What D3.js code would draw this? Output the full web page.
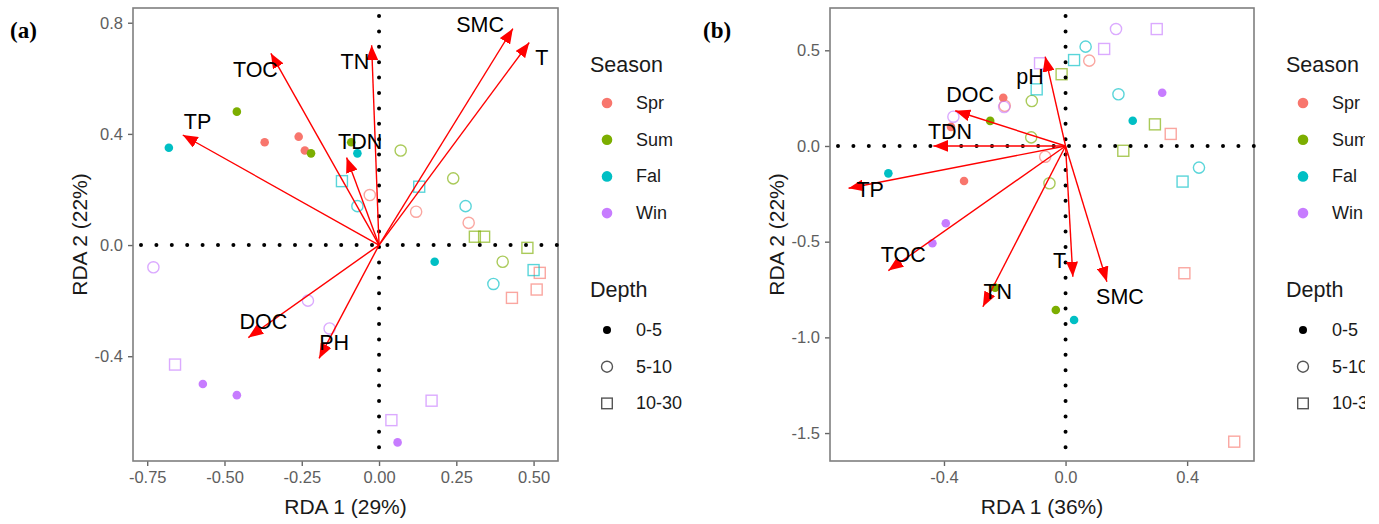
<!DOCTYPE html>
<html>
<head>
<meta charset="utf-8">
<script src="https://cdn.jsdelivr.net/npm/d3@7"></script>
<style>
  body { margin: 0; background: #fff; }
  svg { display: block; font-family: "Liberation Sans", Arial, sans-serif; }
</style>
</head>
<body>
<svg id="chart" width="1379" height="524"></svg>
<script>
(function () {
  'use strict';

  // --- Legend categories ---
  var seasons      = ['Spr', 'Sum', 'Fal', 'Win'];
  var seasonColors = ['#F8766D', '#7CAE00', '#00BFC4', '#C77CFF'];
  var depths       = ['0-5', '5-10', '10-30'];

  // --- Panel (a) samples: [season, depth, RDA1, RDA2] ---
  var samplesA = [
    ['Spr', '0-5', -0.37, 0.37], ['Spr', '0-5', -0.26, 0.39], ['Spr', '0-5', -0.24, 0.34],
    ['Spr', '5-10', -0.03, 0.18], ['Spr', '5-10', 0.12, 0.12], ['Spr', '5-10', 0.29, 0.08],
    ['Spr', '10-30', 0.43, -0.19], ['Spr', '10-30', 0.51, -0.16], ['Spr', '10-30', 0.52, -0.10],
    ['Sum', '0-5', -0.46, 0.48], ['Sum', '0-5', -0.22, 0.33], ['Sum', '0-5', -0.09, 0.37],
    ['Sum', '5-10', 0.07, 0.34], ['Sum', '5-10', 0.24, 0.24], ['Sum', '5-10', 0.40, -0.06],
    ['Sum', '10-30', 0.31, 0.03], ['Sum', '10-30', 0.34, 0.03], ['Sum', '10-30', 0.48, -0.01],
    ['Fal', '0-5', -0.68, 0.35], ['Fal', '0-5', -0.07, 0.33], ['Fal', '0-5', 0.18, -0.06],
    ['Fal', '5-10', -0.07, 0.14], ['Fal', '5-10', 0.28, 0.14], ['Fal', '5-10', 0.37, -0.14],
    ['Fal', '10-30', -0.12, 0.23], ['Fal', '10-30', 0.13, 0.21], ['Fal', '10-30', 0.50, -0.09],
    ['Win', '0-5', -0.57, -0.50], ['Win', '0-5', -0.46, -0.54], ['Win', '0-5', 0.06, -0.71],
    ['Win', '5-10', -0.73, -0.08], ['Win', '5-10', -0.23, -0.20], ['Win', '5-10', -0.16, -0.30],
    ['Win', '10-30', -0.66, -0.43], ['Win', '10-30', 0.04, -0.63], ['Win', '10-30', 0.17, -0.56]
  ];

  // --- Panel (a) environmental vectors ---
  var envA     = ['TOC', 'TP', 'TN', 'TDN', 'SMC', 'T', 'DOC', 'PH'];
  var envAx    = [-0.35, -0.635, -0.024, -0.105, 0.433, 0.486, -0.423, -0.194];
  var envAy    = [0.69, 0.396, 0.719, 0.315, 0.779, 0.729, -0.333, -0.408];
  var envAlabX = [-0.40, -0.587, -0.078, -0.061, 0.327, 0.527, -0.374, -0.145];
  var envAlabY = [0.629, 0.444, 0.659, 0.372, 0.791, 0.672, -0.276, -0.354];

  // --- Panel (b) samples ---
  var samplesB = [
    ['Spr', '0-5', -0.205, 0.252], ['Spr', '0-5', -0.334, -0.183], ['Spr', '0-5', -0.377, 0.10],
    ['Spr', '5-10', 0.078, 0.446], ['Spr', '5-10', -0.067, -0.056], ['Spr', '5-10', -0.20, 0.21],
    ['Spr', '10-30', 0.346, 0.063], ['Spr', '10-30', 0.391, -0.665], ['Spr', '10-30', 0.555, -1.545],
    ['Sum', '0-5', -0.248, 0.131], ['Sum', '0-5', -0.032, -0.857], ['Sum', '0-5', -0.232, -0.74],
    ['Sum', '5-10', -0.111, 0.235], ['Sum', '5-10', -0.113, 0.045], ['Sum', '5-10', -0.053, -0.195],
    ['Sum', '10-30', -0.013, 0.375], ['Sum', '10-30', 0.294, 0.113], ['Sum', '10-30', 0.19, -0.025],
    ['Fal', '0-5', -0.583, -0.143], ['Fal', '0-5', 0.221, 0.132], ['Fal', '0-5', 0.028, -0.909],
    ['Fal', '5-10', 0.066, 0.519], ['Fal', '5-10', 0.174, 0.27], ['Fal', '5-10', 0.439, -0.113],
    ['Fal', '10-30', 0.028, 0.449], ['Fal', '10-30', -0.095, 0.296], ['Fal', '10-30', 0.385, -0.186],
    ['Win', '0-5', 0.318, 0.278], ['Win', '0-5', -0.394, -0.404], ['Win', '0-5', -0.438, -0.508],
    ['Win', '5-10', 0.166, 0.611], ['Win', '5-10', -0.369, 0.153], ['Win', '5-10', -0.202, 0.204],
    ['Win', '10-30', 0.30, 0.611], ['Win', '10-30', 0.127, 0.507], ['Win', '10-30', -0.084, 0.432]
  ];

  // --- Panel (b) environmental vectors ---
  var envB     = ['pH', 'DOC', 'TDN', 'TP', 'TOC', 'TN', 'T', 'SMC'];
  var envBx    = [-0.067, -0.363, -0.435, -0.714, -0.583, -0.272, 0.024, 0.136];
  var envBy    = [0.467, 0.184, 0.0, -0.221, -0.651, -0.84, -0.683, -0.709];
  var envBlabX = [-0.117, -0.314, -0.38, -0.643, -0.534, -0.223, -0.02, 0.179];
  var envBlabY = [0.362, 0.266, 0.075, -0.23, -0.569, -0.761, -0.599, -0.79];

  // --- Axis ticks / titles ---
  var ticksAx = [-0.75, -0.5, -0.25, 0, 0.25, 0.5];
  var ticksAy = [-0.4, 0, 0.4, 0.8];
  var ticksBx = [-0.4, 0, 0.4];
  var ticksBy = [-1.5, -1, -0.5, 0, 0.5];

  var svg = d3.select('#chart');
  var color = d3.scaleOrdinal().domain(seasons).range(seasonColors);

  var defs = svg.append('defs');
  defs.append('marker')
    .attr('id', 'arrowhead')
    .attr('viewBox', '0 0 15 12')
    .attr('refX', 15).attr('refY', 6)
    .attr('markerWidth', 15).attr('markerHeight', 12)
    .attr('markerUnits', 'userSpaceOnUse')
    .attr('orient', 'auto')
    .append('path')
    .attr('d', 'M0,0L15,6L0,12Z')
    .attr('fill', '#ff0000');

  // the (b) figure is cut off on its right side in the source image
  defs.append('clipPath').attr('id', 'clipB')
    .append('rect').attr('x', 0).attr('y', 0).attr('width', 1365).attr('height', 524);

  function fmt(p) {
    return function (v) { return v.toFixed(p); };
  }

  function drawPoint(g, d, x, y) {
    var c = color(d[0]);
    var cx = x(d[2]), cy = y(d[3]);
    if (d[1] === '0-5') {
      g.append('circle').attr('cx', cx).attr('cy', cy).attr('r', 4.3).attr('fill', c);
    } else if (d[1] === '5-10') {
      g.append('circle').attr('cx', cx).attr('cy', cy).attr('r', 5.6)
        .attr('fill', 'none').attr('stroke', c).attr('stroke-width', 1.4).attr('stroke-opacity', 0.65);
    } else {
      g.append('rect').attr('x', cx - 5.5).attr('y', cy - 5.5).attr('width', 11).attr('height', 11)
        .attr('fill', 'none').attr('stroke', c).attr('stroke-width', 1.4).attr('stroke-opacity', 0.65);
    }
  }

  function drawPanel(cfg) {
    var x = d3.scaleLinear().domain(cfg.xDomain).range([cfg.left, cfg.right]);
    var y = d3.scaleLinear().domain(cfg.yDomain).range([cfg.bottom, cfg.top]);
    var g = svg.append('g');
    if (cfg.clip) g.attr('clip-path', 'url(#' + cfg.clip + ')');

    // axes
    var xa = g.append('g').attr('transform', 'translate(0,' + cfg.bottom + ')')
      .call(d3.axisBottom(x).tickValues(cfg.xTicks).tickFormat(fmt(cfg.xFmt)).tickSize(5).tickPadding(5));
    var ya = g.append('g').attr('transform', 'translate(' + cfg.left + ',0)')
      .call(d3.axisLeft(y).tickValues(cfg.yTicks).tickFormat(fmt(cfg.yFmt)).tickSize(5).tickPadding(5));
    [xa, ya].forEach(function (a) {
      a.select('.domain').remove();
      a.selectAll('line').attr('stroke', '#666').attr('stroke-width', 1.4);
      a.selectAll('text').attr('fill', '#5e5e5e').style('font-size', '16.5px')
        .style('font-family', '"Liberation Sans", Arial, sans-serif');
    });

    // panel border
    g.append('rect')
      .attr('x', cfg.left).attr('y', cfg.top)
      .attr('width', cfg.right - cfg.left).attr('height', cfg.bottom - cfg.top)
      .attr('fill', 'none').attr('stroke', '#7f7f7f').attr('stroke-width', 1.6);

    // points
    var pts = g.append('g');
    cfg.samples.forEach(function (d) { drawPoint(pts, d, x, y); });

    // dotted reference lines
    var dotted = g.append('g')
      .attr('stroke', '#000').attr('stroke-width', 4)
      .attr('stroke-linecap', 'round').attr('stroke-dasharray', '0 15.4');
    dotted.append('line')
      .attr('x1', cfg.left + 8).attr('x2', cfg.right).attr('y1', y(0)).attr('y2', y(0));
    dotted.append('line')
      .attr('x1', x(0)).attr('x2', x(0)).attr('y1', cfg.top + 8).attr('y2', cfg.bottom);

    // arrows
    var arr = g.append('g');
    cfg.env.forEach(function (name, i) {
      arr.append('line')
        .attr('x1', x(0)).attr('y1', y(0))
        .attr('x2', x(cfg.envX[i])).attr('y2', y(cfg.envY[i]))
        .attr('stroke', '#ff0000').attr('stroke-width', 1.4)
        .attr('marker-end', 'url(#arrowhead)');
    });
    cfg.env.forEach(function (name, i) {
      arr.append('text')
        .attr('x', x(cfg.labX[i])).attr('y', y(cfg.labY[i]))
        .attr('text-anchor', 'middle').attr('dominant-baseline', 'central')
        .style('font-size', '21.5px').attr('fill', '#000')
        .text(name);
    });

    // axis titles
    g.append('text')
      .attr('x', (cfg.left + cfg.right) / 2).attr('y', 514)
      .attr('text-anchor', 'middle').style('font-size', '21px').attr('fill', '#1a1a1a')
      .text(cfg.xTitle);
    g.append('text')
      .attr('transform', 'translate(' + (cfg.left - 46) + ',' + ((cfg.top + cfg.bottom) / 2) + ') rotate(-90)')
      .attr('text-anchor', 'middle').style('font-size', '21px').attr('fill', '#1a1a1a')
      .text(cfg.yTitle);

    // panel tag
    g.append('text')
      .attr('x', cfg.tagX).attr('y', 38)
      .style('font-family', '"Liberation Serif", "Times New Roman", serif')
      .style('font-weight', 'bold').style('font-size', '23px').attr('fill', '#000')
      .text(cfg.tag);

    // legend
    var lx = cfg.right + 32;
    var lg = g.append('g');
    lg.append('text').attr('x', lx).attr('y', 72).style('font-size', '21.5px').attr('fill', '#1a1a1a').text('Season');
    seasons.forEach(function (s, i) {
      var ky = 103 + i * 36.7;
      lg.append('circle').attr('cx', lx + 17).attr('cy', ky).attr('r', 5.3).attr('fill', color(s));
      lg.append('text').attr('x', lx + 46).attr('y', ky).attr('dominant-baseline', 'central')
        .style('font-size', '18px').attr('fill', '#1a1a1a').text(s);
    });
    lg.append('text').attr('x', lx).attr('y', 297).style('font-size', '21.5px').attr('fill', '#1a1a1a').text('Depth');
    depths.forEach(function (dp, i) {
      var ky = 330 + i * 36.7;
      var kx = lx + 17;
      if (i === 0) {
        lg.append('circle').attr('cx', kx).attr('cy', ky).attr('r', 4).attr('fill', '#000');
      } else if (i === 1) {
        lg.append('circle').attr('cx', kx).attr('cy', ky).attr('r', 5.5)
          .attr('fill', 'none').attr('stroke', '#555').attr('stroke-width', 1.4);
      } else {
        lg.append('rect').attr('x', kx - 5.3).attr('y', ky - 5.3).attr('width', 10.6).attr('height', 10.6)
          .attr('fill', 'none').attr('stroke', '#555').attr('stroke-width', 1.4);
      }
      lg.append('text').attr('x', lx + 46).attr('y', ky).attr('dominant-baseline', 'central')
        .style('font-size', '18px').attr('fill', '#1a1a1a').text(dp);
    });
  }

  drawPanel({
    left: 133, right: 558, top: 8, bottom: 461,
    xDomain: [-0.796, 0.579], yDomain: [-0.777, 0.853],
    xTicks: ticksAx, yTicks: ticksAy, xFmt: 2, yFmt: 1,
    samples: samplesA, env: envA, envX: envAx, envY: envAy, labX: envAlabX, labY: envAlabY,
    xTitle: 'RDA 1 (29%)', yTitle: 'RDA 2 (22%)', tag: '(a)', tagX: 10
  });

  drawPanel({
    left: 830, right: 1254, top: 8, bottom: 461,
    xDomain: [-0.775, 0.62], yDomain: [-1.646, 0.721],
    xTicks: ticksBx, yTicks: ticksBy, xFmt: 1, yFmt: 1,
    samples: samplesB, env: envB, envX: envBx, envY: envBy, labX: envBlabX, labY: envBlabY,
    xTitle: 'RDA 1 (36%)', yTitle: 'RDA 2 (22%)', tag: '(b)', tagX: 703, clip: 'clipB'
  });
})();
</script>
</body>
</html>
